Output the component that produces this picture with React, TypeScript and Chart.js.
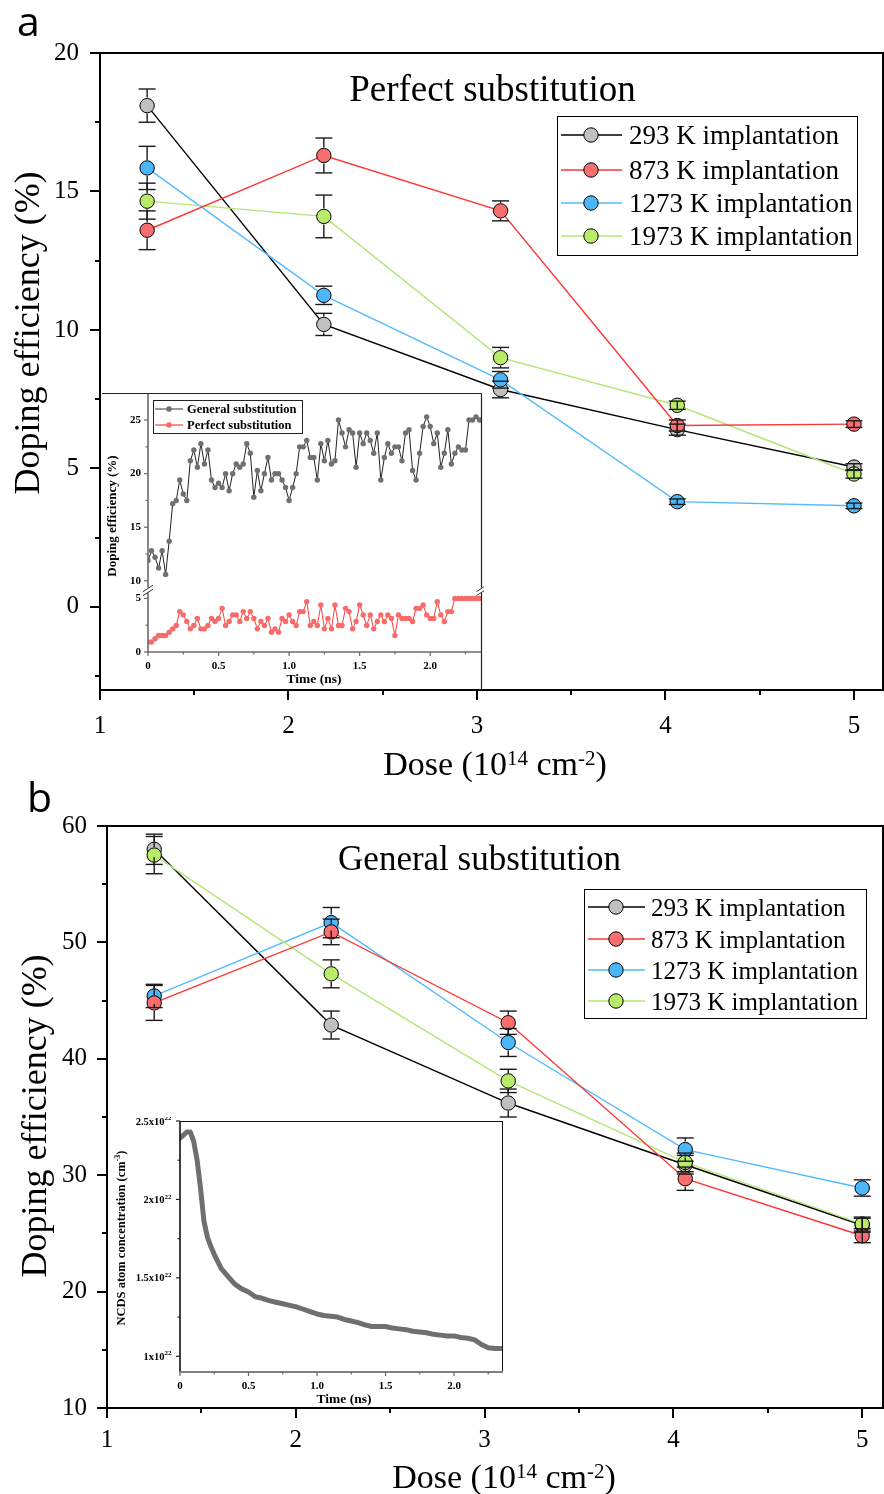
import { useEffect, useRef } from "react";
import { Chart, registerables } from "chart.js";

Chart.register(...registerables);

const SERIF = '"Liberation Serif", "Times New Roman", serif';
const SANS = '"Open Sans", "DejaVu Sans", sans-serif';

// ---------- main panels ----------
const DOSE = [1.25, 2.1875, 3.125, 4.0625, 5.0];
const DOSE_TICKS = [1, 2, 3, 4, 5];
const DOSE_MINOR = [1.5, 2.5, 3.5, 4.5];
const SERIES_LABELS = ["293 K implantation", "873 K implantation", "1273 K implantation", "1973 K implantation"];
const LINE_COLORS = ["#000000", "#ff3434", "#52bbff", "#b3e676"];
const FILL_COLORS = ["#c0c0c0", "#f86e6e", "#4cb6fb", "#b9ea68"];
const DRAW_ORDER = [3, 0, 2, 1];

// panel a : perfect substitution (%)
const PERFECT_293 = [18.1, 10.2, 7.85, 6.4, 5.05];
const PERFECT_873 = [13.6, 16.3, 14.3, 6.55, 6.6];
const PERFECT_1273 = [15.85, 11.25, 8.2, 3.8, 3.65];
const PERFECT_1973 = [14.65, 14.1, 9.0, 7.28, 4.8];
const PERFECT_293_ERR = [0.6, 0.4, 0.3, 0.2, 0.12];
const PERFECT_873_ERR = [0.7, 0.63, 0.36, 0.2, 0.12];
const PERFECT_1273_ERR = [0.78, 0.33, 0.3, 0.1, 0.1];
const PERFECT_1973_ERR = [0.65, 0.77, 0.37, 0.15, 0.15];
const A_Y_TICKS = [0, 5, 10, 15, 20];
const A_Y_MINOR = [-2.5, 2.5, 7.5, 12.5, 17.5];

// panel b : general substitution (%)
const GENERAL_293 = [58.0, 42.9, 36.2, 30.9, 25.7];
const GENERAL_873 = [44.8, 50.9, 43.1, 29.7, 24.8];
const GENERAL_1273 = [45.4, 51.7, 41.4, 32.2, 28.9];
const GENERAL_1973 = [57.5, 47.3, 38.1, 31.1, 25.8];
const GENERAL_293_ERR = [1.3, 1.2, 1.2, 0.8, 0.6];
const GENERAL_873_ERR = [1.5, 1.1, 1.0, 1.0, 0.6];
const GENERAL_1273_ERR = [1.0, 1.3, 1.2, 1.0, 0.7];
const GENERAL_1973_ERR = [1.6, 1.2, 1.0, 0.8, 0.6];
const B_Y_TICKS = [10, 20, 30, 40, 50, 60];
const B_Y_MINOR = [15, 25, 35, 45, 55];

// ---------- inset a : doping efficiency vs time ----------
const INSET_A_STEP_NS = 0.025;
const INSET_A_GENERAL = [
  11.9, 12.8, 12.2, 11.2, 12.8, 10.6, 13.7, 17.2, 17.5, 19.4,
  18.1, 17.5, 21.2, 22.2, 20.6, 22.8, 20.9, 22.2, 19.4, 18.7,
  19.1, 18.7, 20.0, 18.4, 20.0, 20.9, 20.6, 20.9, 22.8, 21.9,
  17.8, 20.3, 18.4, 20.0, 21.5, 19.4, 20.0, 20.0, 19.4, 18.7,
  17.5, 18.7, 20.0, 22.5, 22.5, 23.1, 21.5, 21.5, 19.4, 22.8,
  21.2, 23.1, 20.9, 21.2, 25.0, 23.8, 22.5, 24.1, 23.8, 20.6,
  23.8, 22.8, 23.8, 23.1, 21.9, 23.8, 19.4, 21.5, 22.8, 21.9,
  22.5, 22.5, 21.2, 23.8, 24.1, 20.3, 19.4, 21.9, 24.4, 25.3,
  24.4, 22.8, 23.8, 20.6, 21.9, 24.1, 20.9, 21.9, 22.5, 22.2,
  22.2, 25.0, 25.0, 25.3, 25.0,
];
const INSET_A_PERFECT = [
  0.93, 0.93, 1.23, 1.54, 1.54, 1.54, 1.85, 2.16, 2.47, 3.77,
  3.46, 2.84, 2.16, 2.47, 3.12, 2.16, 2.16, 2.47, 3.12, 2.84,
  3.12, 4.07, 2.47, 2.84, 3.46, 3.46, 2.84, 3.77, 3.12, 3.77,
  3.12, 2.16, 2.84, 2.47, 3.12, 1.85, 2.16, 1.85, 3.12, 2.84,
  3.46, 2.84, 2.47, 3.77, 3.77, 4.69, 2.47, 2.84, 2.47, 4.38,
  2.16, 3.12, 2.16, 4.38, 2.47, 2.47, 4.07, 3.77, 2.16, 2.84,
  4.38, 3.46, 2.47, 3.46, 2.16, 2.84, 3.46, 2.84, 3.46, 3.12,
  1.54, 3.46, 3.12, 3.12, 3.12, 2.84, 4.07, 4.07, 4.38, 3.46,
  3.12, 3.12, 4.69, 3.46, 2.84, 3.77, 3.77, 5.0, 5.0, 5.0,
  5.0, 5.0, 5.0, 5.0, 5.0,
];
const INSET_A_TIME = INSET_A_GENERAL.map((_, i) => +(i * INSET_A_STEP_NS).toFixed(4));
const INSET_A_BREAK_LOW = 5.77;
const INSET_A_BREAK_HIGH = 9.13;
const INSET_A_Y_TOP = 27.43;
const INSET_A_Y_TICKS = [0, 5, 10, 15, 20, 25];
const INSET_A_Y_MINOR = [2.5, 12.5, 17.5, 22.5];
const TIME_TICKS = [0, 0.5, 1, 1.5, 2];
const TIME_MINOR = [0.25, 0.75, 1.25, 1.75, 2.25];
const toBroken = (v: number) => (v > INSET_A_BREAK_LOW ? v - (INSET_A_BREAK_HIGH - INSET_A_BREAK_LOW) : v);
const fromBroken = (v: number) => (v > INSET_A_BREAK_LOW + 1e-6 ? v + (INSET_A_BREAK_HIGH - INSET_A_BREAK_LOW) : v);

// ---------- inset b : NCDS concentration (1e22 cm^-3) ----------
const INSET_B_TIME = [
  0, 0.025, 0.05, 0.075, 0.1, 0.125, 0.15, 0.175, 0.2, 0.225, 0.25, 0.3, 0.35, 0.4, 0.45, 0.5,
  0.55, 0.6, 0.65, 0.7, 0.75, 0.8, 0.85, 0.9, 0.95, 1.0, 1.05, 1.1, 1.15, 1.2, 1.25, 1.3,
  1.35, 1.4, 1.45, 1.5, 1.55, 1.6, 1.65, 1.7, 1.75, 1.8, 1.85, 1.9, 1.95, 2.0, 2.05, 2.1,
  2.15, 2.2, 2.25, 2.3, 2.35,
];
const INSET_B_NCDS = [
  2.39, 2.41, 2.43, 2.43, 2.37, 2.25, 2.07, 1.86, 1.76, 1.7, 1.65, 1.56, 1.51, 1.46, 1.43, 1.41,
  1.38, 1.37, 1.355, 1.345, 1.335, 1.325, 1.315, 1.3, 1.285, 1.27, 1.26, 1.255, 1.25, 1.235, 1.225, 1.215,
  1.2, 1.19, 1.19, 1.19, 1.18, 1.175, 1.17, 1.16, 1.155, 1.15, 1.14, 1.135, 1.13, 1.13, 1.12, 1.115,
  1.105, 1.075, 1.055, 1.05, 1.05,
];
const INSET_B_Y_TICKS = [1, 1.5, 2, 2.5];
const INSET_B_Y_MINOR = [1.25, 1.75, 2.25];

type Part = { t: string; sup?: boolean };

function drawRich(ctx: any, parts: Part[], x: number, y: number, size: number, supSize: number, rise: number, align: string, weight = "normal") {
  const font = (s: number) => `${weight} ${s}px ${SERIF}`;
  let total = 0;
  const widths = parts.map((p) => {
    ctx.font = font(p.sup ? supSize : size);
    const w = ctx.measureText(p.t).width;
    total += w;
    return w;
  });
  let cx = align === "center" ? x - total / 2 : align === "right" ? x - total : x;
  ctx.textBaseline = "alphabetic";
  ctx.textAlign = "left";
  parts.forEach((p, i) => {
    ctx.font = font(p.sup ? supSize : size);
    ctx.fillText(p.t, cx, p.sup ? y - rise : y);
    cx += widths[i];
  });
}

function line(ctx: any, x1: number, y1: number, x2: number, y2: number) {
  ctx.beginPath();
  ctx.moveTo(x1, y1);
  ctx.lineTo(x2, y2);
  ctx.stroke();
}

function makeScale(min: number, max: number, ticks: number[], size: number, pad: number, weight: string, fit: (s: any) => void, callback?: any, show = true) {
  const t: any = {
    display: show,
    autoSkip: false,
    maxRotation: 0,
    minRotation: 0,
    padding: pad,
    color: "#000",
    font: { family: SERIF, size, weight },
  };
  if (callback) t.callback = callback;
  return {
    type: "linear",
    min,
    max,
    grid: { display: false, drawTicks: false },
    border: { display: false },
    afterBuildTicks: (s: any) => {
      s.ticks = ticks.map((v) => ({ value: v }));
    },
    afterFit: (s: any) => {
      fit(s);
      s.paddingLeft = 0;
      s.paddingRight = 0;
      s.paddingTop = 0;
      s.paddingBottom = 0;
    },
    ticks: t,
  };
}

function createMain(canvas: HTMLCanvasElement, spec: any) {
  const datasets = spec.values.map((vals: number[], k: number) => ({
    label: SERIES_LABELS[k],
    data: DOSE.map((x, i) => ({ x, y: vals[i] })),
    borderColor: LINE_COLORS[k],
    backgroundColor: FILL_COLORS[k],
    borderWidth: 1.4,
    pointRadius: 7.2,
    pointBorderWidth: 1,
    pointBorderColor: "#000",
    pointBackgroundColor: FILL_COLORS[k],
    tension: 0,
    order: DRAW_ORDER[k],
    clip: false,
  }));

  const plugin = {
    id: "mainDecor",
    afterDatasetsDraw(chart: any) {
      const { ctx } = chart;
      const xs = chart.scales.x;
      const ys = chart.scales.y;
      const R = 8;
      ctx.save();
      ctx.strokeStyle = "#1a1a1a";
      ctx.lineWidth = 1.4;
      spec.values.forEach((vals: number[], k: number) => {
        vals.forEach((v, i) => {
          const e = spec.errors[k][i];
          const px = xs.getPixelForValue(DOSE[i]);
          const py = ys.getPixelForValue(v);
          const top = ys.getPixelForValue(v + e);
          const bot = ys.getPixelForValue(v - e);
          if (py - top > R) {
            line(ctx, px, top, px, py - R);
            line(ctx, px, py + R, px, bot);
          } else {
            line(ctx, px, top, px, bot);
          }
          line(ctx, px - 8.5, top, px + 8.5, top);
          line(ctx, px - 8.5, bot, px + 8.5, bot);
        });
      });
      ctx.restore();
    },
    afterDraw(chart: any) {
      const { ctx, chartArea: a } = chart;
      const xs = chart.scales.x;
      const ys = chart.scales.y;
      ctx.save();
      ctx.strokeStyle = "#000";
      ctx.lineWidth = 2;
      ctx.strokeRect(a.left, a.top, a.right - a.left, a.bottom - a.top);
      spec.yTicks.forEach((v: number) => {
        const p = Math.round(ys.getPixelForValue(v));
        line(ctx, a.left, p, a.left - 10, p);
      });
      spec.yMinor.forEach((v: number) => {
        const p = Math.round(ys.getPixelForValue(v));
        line(ctx, a.left, p, a.left - 5, p);
      });
      DOSE_TICKS.forEach((v) => {
        const p = Math.round(xs.getPixelForValue(v));
        line(ctx, p, a.bottom, p, a.bottom + 10);
      });
      DOSE_MINOR.forEach((v) => {
        const p = Math.round(xs.getPixelForValue(v));
        line(ctx, p, a.bottom, p, a.bottom + 5);
      });

      ctx.fillStyle = "#000";
      // title
      ctx.font = `${spec.titleSize}px ${SERIF}`;
      ctx.textAlign = "center";
      ctx.textBaseline = "alphabetic";
      ctx.fillText(spec.title, spec.titleX, spec.titleBase);

      // legend
      const L = spec.legend;
      ctx.lineWidth = 1;
      ctx.strokeStyle = "#000";
      ctx.fillStyle = "#fff";
      ctx.fillRect(L.box[0], L.box[1], L.box[2] - L.box[0], L.box[3] - L.box[1]);
      ctx.strokeRect(L.box[0] + 0.5, L.box[1] + 0.5, L.box[2] - L.box[0], L.box[3] - L.box[1]);
      SERIES_LABELS.forEach((lab, k) => {
        const y = L.rows[k];
        ctx.strokeStyle = LINE_COLORS[k];
        ctx.lineWidth = 1.4;
        line(ctx, L.line[0], y, L.line[1], y);
        ctx.beginPath();
        ctx.arc(L.marker, y, 7.2, 0, Math.PI * 2);
        ctx.fillStyle = FILL_COLORS[k];
        ctx.fill();
        ctx.strokeStyle = "#000";
        ctx.lineWidth = 1;
        ctx.stroke();
        ctx.fillStyle = "#000";
        ctx.font = `${L.size}px ${SERIF}`;
        ctx.textAlign = "left";
        ctx.textBaseline = "alphabetic";
        ctx.fillText(lab, L.text, y + L.size * 0.34);
      });

      // axis titles
      ctx.fillStyle = "#000";
      ctx.save();
      ctx.translate(spec.yTitle.x, spec.yTitle.y);
      ctx.rotate(-Math.PI / 2);
      drawRich(ctx, [{ t: "Doping efficiency (%)" }], 0, spec.yTitle.size * 0.3, spec.yTitle.size, 20, 0, "center");
      ctx.restore();
      const X = spec.xTitle;
      drawRich(
        ctx,
        [{ t: "Dose (10" }, { t: "14", sup: true }, { t: " cm" }, { t: "-2", sup: true }, { t: ")" }],
        X.x, X.base, X.size, X.sup, X.rise, "center"
      );

      // panel letter
      ctx.font = `41px ${SANS}`;
      ctx.textAlign = "left";
      ctx.textBaseline = "alphabetic";
      ctx.fillText(spec.panel.t, spec.panel.x, spec.panel.base);
      ctx.restore();
    },
  };

  return new Chart(canvas, {
    type: "line",
    data: { datasets },
    options: {
      responsive: false,
      animation: false,
      events: [],
      layout: { autoPadding: false, padding: { left: 0, top: spec.areaTop, right: 1, bottom: 0 } },
      plugins: { legend: { display: false }, tooltip: { enabled: false }, title: { display: false } },
      scales: {
        x: makeScale(1, spec.xMax, DOSE_TICKS, 25, spec.xTickPad, "normal", (s: any) => { s.height = spec.xAxisHeight; }),
        y: makeScale(spec.yMin, spec.yMax, spec.yTicks, 25, spec.yTickPad, "normal", (s: any) => { s.width = spec.yAxisWidth; }),
      },
    },
    plugins: [plugin],
  } as any);
}

function createInsetA(canvas: HTMLCanvasElement) {
  const plugin = {
    id: "insetA",
    beforeDraw(chart: any) {
      const { ctx, width, height } = chart;
      ctx.save();
      ctx.fillStyle = "#fff";
      ctx.fillRect(0, 0, width, height);
      ctx.restore();
    },
    afterDraw(chart: any) {
      const { ctx, chartArea: a, height } = chart;
      const xs = chart.scales.x;
      const ys = chart.scales.y;
      ctx.save();
      // frame (top + right)
      ctx.strokeStyle = "#222";
      ctx.lineWidth = 1.2;
      line(ctx, 0, a.top - 0.5, a.right + 0.5, a.top - 0.5);
      line(ctx, a.right + 0.5, a.top - 0.5, a.right + 0.5, height);
      // axes
      ctx.strokeStyle = "#6a6a6a";
      ctx.lineWidth = 1.6;
      line(ctx, a.left, a.top, a.left, a.bottom + 0.8);
      line(ctx, a.left - 0.8, a.bottom, a.right, a.bottom);
      ctx.lineWidth = 1.2;
      INSET_A_Y_TICKS.forEach((v) => {
        const p = ys.getPixelForValue(toBroken(v));
        line(ctx, a.left, p, a.left - 4, p);
      });
      INSET_A_Y_MINOR.forEach((v) => {
        const p = ys.getPixelForValue(toBroken(v));
        line(ctx, a.left, p, a.left - 2.5, p);
      });
      TIME_TICKS.forEach((v) => {
        const p = xs.getPixelForValue(v);
        line(ctx, p, a.bottom, p, a.bottom + 4);
      });
      TIME_MINOR.forEach((v) => {
        const p = xs.getPixelForValue(v);
        line(ctx, p, a.bottom, p, a.bottom + 2.5);
      });
      // axis breaks
      const pb = ys.getPixelForValue(INSET_A_BREAK_LOW);
      [a.left, a.right + 0.5].forEach((bx) => {
        ctx.fillStyle = "#fff";
        ctx.fillRect(bx - 2, pb - 2.5, 4, 5);
        ctx.strokeStyle = "#333";
        ctx.lineWidth = 1;
        line(ctx, bx - 5, pb + 1.5, bx + 5, pb - 5);
        line(ctx, bx - 5, pb + 5.5, bx + 5, pb - 1);
      });
      // legend
      ctx.strokeStyle = "#222";
      ctx.lineWidth = 1;
      ctx.fillStyle = "#fff";
      ctx.fillRect(51, 8, 149, 33);
      ctx.strokeRect(51.5, 8.5, 149, 33);
      const rows = [
        { y: 17, lc: "#555", pc: "#707070", t: "General substitution" },
        { y: 33, lc: "#ff3b3b", pc: "#f76b6b", t: "Perfect substitution" },
      ];
      rows.forEach((r) => {
        ctx.strokeStyle = r.lc;
        ctx.lineWidth = 1.2;
        line(ctx, 53, r.y, 81, r.y);
        ctx.fillStyle = r.pc;
        ctx.beginPath();
        ctx.arc(67, r.y, 2.8, 0, Math.PI * 2);
        ctx.fill();
        ctx.fillStyle = "#000";
        ctx.font = `bold 12.5px ${SERIF}`;
        ctx.textAlign = "left";
        ctx.textBaseline = "alphabetic";
        ctx.fillText(r.t, 85, r.y + 4.2);
      });
      // titles
      ctx.fillStyle = "#000";
      ctx.save();
      ctx.translate(11, 124);
      ctx.rotate(-Math.PI / 2);
      ctx.font = `bold 13px ${SERIF}`;
      ctx.textAlign = "center";
      ctx.textBaseline = "middle";
      ctx.fillText("Doping efficiency (%)", 0, 0);
      ctx.restore();
      ctx.font = `bold 13.5px ${SERIF}`;
      ctx.textAlign = "center";
      ctx.textBaseline = "middle";
      ctx.fillText("Time (ns)", 212, 288);
      ctx.restore();
    },
  };

  return new Chart(canvas, {
    type: "line",
    data: {
      datasets: [
        {
          label: "General substitution",
          data: INSET_A_TIME.map((t, i) => ({ x: t, y: toBroken(INSET_A_GENERAL[i]) })),
          borderColor: "#222",
          borderWidth: 1,
          pointRadius: 2.7,
          pointBorderWidth: 0,
          pointBackgroundColor: "#707070",
          tension: 0,
        },
        {
          label: "Perfect substitution",
          data: INSET_A_TIME.map((t, i) => ({ x: t, y: toBroken(INSET_A_PERFECT[i]) })),
          borderColor: "#ff3b3b",
          borderWidth: 1,
          pointRadius: 2.7,
          pointBorderWidth: 0,
          pointBackgroundColor: "#f76b6b",
          tension: 0,
        },
      ],
    },
    options: {
      responsive: false,
      animation: false,
      events: [],
      layout: { autoPadding: false, padding: { left: 0, top: 2, right: 3, bottom: 0 } },
      plugins: { legend: { display: false }, tooltip: { enabled: false } },
      scales: {
        x: makeScale(0, 2.36, TIME_TICKS, 11, 8, "bold", (s: any) => { s.height = 37; }),
        y: makeScale(
          0,
          toBroken(INSET_A_Y_TOP),
          INSET_A_Y_TICKS.map(toBroken),
          11,
          7,
          "bold",
          (s: any) => { s.width = 46; },
          (v: number) => String(Math.round(fromBroken(v)))
        ),
      },
    },
    plugins: [plugin],
  } as any);
}

function createInsetB(canvas: HTMLCanvasElement) {
  const plugin = {
    id: "insetB",
    afterDraw(chart: any) {
      const { ctx, chartArea: a } = chart;
      const xs = chart.scales.x;
      const ys = chart.scales.y;
      ctx.save();
      ctx.strokeStyle = "#111";
      ctx.lineWidth = 1;
      line(ctx, a.left, a.top + 0.5, a.right + 0.5, a.top + 0.5);
      line(ctx, a.right + 0.5, a.top, a.right + 0.5, a.bottom);
      ctx.lineWidth = 1.6;
      line(ctx, a.left, a.top, a.left, a.bottom);
      ctx.strokeStyle = "#808080";
      ctx.lineWidth = 2;
      line(ctx, a.left - 1, a.bottom, a.right + 1, a.bottom);
      ctx.strokeStyle = "#222";
      ctx.lineWidth = 1.2;
      INSET_B_Y_TICKS.forEach((v) => {
        const p = ys.getPixelForValue(v);
        line(ctx, a.left, p, a.left - 4, p);
      });
      INSET_B_Y_MINOR.forEach((v) => {
        const p = ys.getPixelForValue(v);
        line(ctx, a.left, p, a.left - 2.5, p);
      });
      ctx.strokeStyle = "#666";
      TIME_TICKS.forEach((v) => {
        const p = xs.getPixelForValue(v);
        line(ctx, p, a.bottom, p, a.bottom + 4);
      });
      TIME_MINOR.forEach((v) => {
        const p = xs.getPixelForValue(v);
        line(ctx, p, a.bottom, p, a.bottom + 2.5);
      });
      ctx.fillStyle = "#000";
      INSET_B_Y_TICKS.forEach((v) => {
        const p = ys.getPixelForValue(v);
        drawRich(ctx, [{ t: `${v}x10` }, { t: "22", sup: true }], a.left - 8.5, p + 3.6, 10.5, 7, 4.5, "right", "bold");
      });
      ctx.save();
      ctx.translate(11, 121);
      ctx.rotate(-Math.PI / 2);
      drawRich(
        ctx,
        [{ t: "NCDS atom concentration (cm" }, { t: "-3", sup: true }, { t: ")" }],
        0, 4.3, 12.5, 8, 5, "center", "bold"
      );
      ctx.restore();
      ctx.font = `bold 13.5px ${SERIF}`;
      ctx.textAlign = "center";
      ctx.textBaseline = "middle";
      ctx.fillText("Time (ns)", 234, 283);
      ctx.restore();
    },
  };

  return new Chart(canvas, {
    type: "line",
    data: {
      datasets: [
        {
          label: "NCDS atom concentration",
          data: INSET_B_TIME.map((t, i) => ({ x: t, y: INSET_B_NCDS[i] })),
          borderColor: "#6f6f6f",
          borderWidth: 5,
          pointRadius: 0,
          tension: 0,
          borderJoinStyle: "round",
          borderCapStyle: "round",
        },
      ],
    },
    options: {
      responsive: false,
      animation: false,
      events: [],
      layout: { autoPadding: false, padding: { left: 0, top: 4, right: 3, bottom: 0 } },
      plugins: { legend: { display: false }, tooltip: { enabled: false } },
      scales: {
        x: makeScale(0, 2.35, TIME_TICKS, 11, 8, "bold", (s: any) => { s.height = 34; }),
        y: makeScale(0.9, 2.5, INSET_B_Y_TICKS, 10, 8, "bold", (s: any) => { s.width = 70; }, undefined, false),
      },
    },
    plugins: [plugin],
  } as any);
}

const SPEC_A = {
  values: [PERFECT_293, PERFECT_873, PERFECT_1273, PERFECT_1973],
  errors: [PERFECT_293_ERR, PERFECT_873_ERR, PERFECT_1273_ERR, PERFECT_1973_ERR],
  yMin: -3, yMax: 20, yTicks: A_Y_TICKS, yMinor: A_Y_MINOR, xMax: 5.154,
  areaTop: 53, yAxisWidth: 100, xAxisHeight: 100,
  xTickPad: 21, yTickPad: 21,
  title: "Perfect substitution", titleSize: 37, titleX: 492.5, titleBase: 100.5,
  legend: { box: [557, 116, 857, 255], line: [561, 622], marker: 591, text: 629, rows: [135, 170, 203, 236], size: 27 },
  yTitle: { x: 28, y: 333, size: 36 },
  xTitle: { x: 495, base: 775, size: 34, sup: 21, rise: 10 },
  panel: { t: "a", x: 17, base: 36 },
};

// canvas b starts at page y = 770
const SPEC_B = {
  values: [GENERAL_293, GENERAL_873, GENERAL_1273, GENERAL_1973],
  errors: [GENERAL_293_ERR, GENERAL_873_ERR, GENERAL_1273_ERR, GENERAL_1973_ERR],
  yMin: 10, yMax: 60, yTicks: B_Y_TICKS, yMinor: B_Y_MINOR, xMax: 5.11,
  areaTop: 56, yAxisWidth: 107, xAxisHeight: 86,
  xTickPad: 17, yTickPad: 20,
  title: "General substitution", titleSize: 35, titleX: 479.5, titleBase: 100,
  legend: { box: [584, 119, 866, 248], line: [588, 645], marker: 616, text: 651, rows: [137, 169, 200, 231], size: 25 },
  yTitle: { x: 35, y: 346, size: 36 },
  xTitle: { x: 504, base: 718, size: 34, sup: 21, rise: 10 },
  panel: { t: "b", x: 27, base: 42 },
};

export default function App() {
  const aRef = useRef<HTMLCanvasElement>(null);
  const bRef = useRef<HTMLCanvasElement>(null);
  const iaRef = useRef<HTMLCanvasElement>(null);
  const ibRef = useRef<HTMLCanvasElement>(null);

  useEffect(() => {
    const charts = [
      createMain(aRef.current as HTMLCanvasElement, SPEC_A),
      createMain(bRef.current as HTMLCanvasElement, SPEC_B),
      createInsetA(iaRef.current as HTMLCanvasElement),
      createInsetB(ibRef.current as HTMLCanvasElement),
    ];
    return () => charts.forEach((c) => c.destroy());
  }, []);

  const abs = (l: number, t: number, w: number, h: number): any => ({ position: "absolute", left: l, top: t, width: w, height: h, display: "block" });

  return (
    <div style={{ position: "absolute", left: 0, top: 0, width: 884, height: 1494, background: "#fff", overflow: "hidden" }}>
      <canvas ref={aRef} width={884} height={790} style={abs(0, 0, 884, 790)} />
      <canvas ref={bRef} width={884} height={724} style={abs(0, 770, 884, 724)} />
      <canvas ref={iaRef} width={382} height={297} style={abs(102, 392, 382, 297)} />
      <canvas ref={ibRef} width={395} height={289} style={abs(110, 1117, 395, 289)} />
    </div>
  );
}
